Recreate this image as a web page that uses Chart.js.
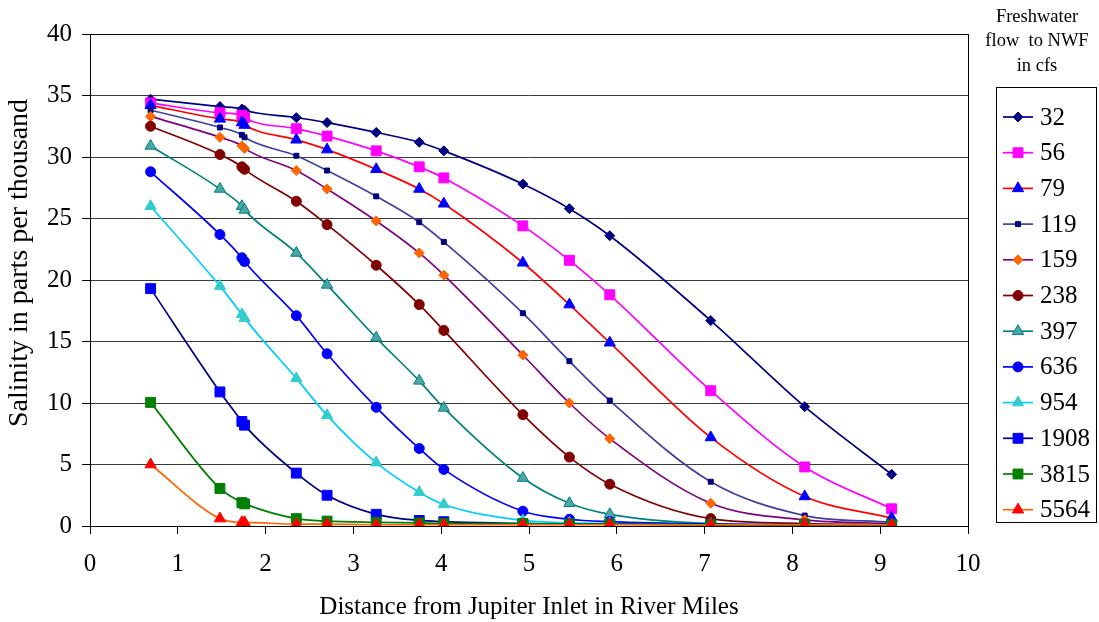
<!DOCTYPE html>
<html>
<head>
<meta charset="utf-8">
<title>Salinity vs distance</title>
<script src="https://cdn.jsdelivr.net/npm/chart.js@4.4.1/dist/chart.umd.min.js"></script>
<style>
  html, body { margin: 0; padding: 0; background: #fff; }
  canvas { display: block; }
</style>
</head>
<body>
<canvas id="chart" width="1099" height="622"></canvas>
<script>
// distance from Jupiter Inlet (river miles)
const distances = [0.69, 1.48, 1.73, 1.76, 2.35, 2.70, 3.26, 3.75, 4.03, 4.93, 5.46, 5.92, 7.07, 8.14, 9.13];

// freshwater flow (cfs) = series names
const flows = ['32', '56', '79', '119', '159', '238', '397', '636', '954', '1908', '3815', '5564'];

// salinity (ppt) for each flow
const sal32   = [34.7, 34.1, 33.9, 33.8, 33.2, 32.8, 32.0, 31.2, 30.5, 27.8, 25.8, 23.6, 16.7, 9.7, 4.2];
const sal56   = [34.4, 33.6, 33.4, 33.2, 32.3, 31.7, 30.5, 29.2, 28.3, 24.4, 21.6, 18.8, 11.0, 4.8, 1.4];
const sal79   = [34.2, 33.1, 32.8, 32.6, 31.4, 30.6, 29.0, 27.4, 26.2, 21.4, 18.0, 14.9, 7.2, 2.4, 0.65];
const sal119  = [33.8, 32.4, 31.8, 31.6, 30.1, 28.9, 26.8, 24.7, 23.1, 17.3, 13.4, 10.2, 3.6, 0.85, 0.3];
const sal159  = [33.3, 31.6, 30.9, 30.7, 28.9, 27.4, 24.8, 22.2, 20.4, 13.9, 10.0, 7.1, 1.85, 0.5, 0.2];
const sal238  = [32.5, 30.2, 29.2, 29.0, 26.4, 24.5, 21.2, 18.0, 15.9, 9.05, 5.6, 3.4, 0.6, 0.2, 0.1];
const sal397  = [30.9, 27.4, 26.0, 25.7, 22.2, 19.6, 15.3, 11.8, 9.6, 3.9, 1.85, 0.95, 0.2, 0.1, 0.1];
const sal636  = [28.8, 23.7, 21.8, 21.5, 17.1, 14.0, 9.65, 6.3, 4.6, 1.2, 0.55, 0.35, 0.15, 0.1, 0.1];
const sal954  = [26.0, 19.5, 17.2, 16.9, 12.0, 9.0, 5.15, 2.75, 1.75, 0.45, 0.25, 0.2, 0.1, 0.1, 0.1];
const sal1908 = [19.3, 10.9, 8.5, 8.2, 4.3, 2.5, 0.95, 0.45, 0.35, 0.2, 0.15, 0.15, 0.1, 0.1, 0.1];
const sal3815 = [10.05, 3.05, 1.9, 1.8, 0.6, 0.4, 0.3, 0.25, 0.2, 0.2, 0.15, 0.15, 0.1, 0.1, 0.1];
const sal5564 = [5.0, 0.6, 0.3, 0.3, 0.15, 0.15, 0.1, 0.1, 0.1, 0.1, 0.1, 0.1, 0.1, 0.1, 0.1];

const xTicks = [0, 1, 2, 3, 4, 5, 6, 7, 8, 9, 10];
const yTicks = [0, 5, 10, 15, 20, 25, 30, 35, 40];

document.addEventListener('DOMContentLoaded', () => {
    const FONT = '"Liberation Serif", "Times New Roman", serif';
    const allSal = [sal32, sal56, sal79, sal119, sal159, sal238, sal397, sal636, sal954, sal1908, sal3815, sal5564];

    // line colour, marker fill, marker border, marker style, radius
    const styles = [
        { line: '#000080', fill: '#000080', border: '#000080', shape: 'rectRot',  r: 5 },
        { line: '#FF00FF', fill: '#FF00FF', border: '#FF00FF', shape: 'rect',     r: 7 },
        { line: '#FF0000', fill: '#0000FF', border: '#0000FF', shape: 'triangle', r: 6.5 },
        { line: '#3F3F9F', fill: '#000080', border: '#000080', shape: 'rect',     r: 3.5 },
        { line: '#800080', fill: '#FF6600', border: '#FF6600', shape: 'rectRot',  r: 5 },
        { line: '#800000', fill: '#800000', border: '#800000', shape: 'circle',   r: 5 },
        { line: '#008080', fill: '#4DA6A6', border: '#008080', shape: 'triangle', r: 6.5 },
        { line: '#0000FF', fill: '#0000FF', border: '#0000FF', shape: 'circle',   r: 5 },
        { line: '#00CCFF', fill: '#33CCCC', border: '#33CCCC', shape: 'triangle', r: 6.5 },
        { line: '#000080', fill: '#0000FF', border: '#0000FF', shape: 'rect',     r: 7 },
        { line: '#008000', fill: '#008000', border: '#008000', shape: 'rect',     r: 7 },
        { line: '#FF6600', fill: '#FF0000', border: '#FF0000', shape: 'triangle', r: 6.5 }
    ];

    const datasets = flows.map((name, i) => ({
        label: name,
        data: distances.map((x, j) => ({ x: x, y: allSal[i][j] })),
        showLine: true,
        borderColor: styles[i].line,
        borderWidth: 1.7,
        cubicInterpolationMode: 'monotone',
        pointStyle: styles[i].shape,
        pointRadius: styles[i].r,
        pointBackgroundColor: styles[i].fill,
        pointBorderColor: styles[i].border,
        pointBorderWidth: 1,
        order: flows.length - i
    }));

    // plot frame, y title and legend drawn on the canvas
    const framePlugin = {
        id: 'frameAndLegend',
        beforeDatasetsDraw(chart) {
            const { ctx, chartArea: a } = chart;
            ctx.save();
            ctx.strokeStyle = '#000';
            ctx.lineWidth = 1;
            ctx.strokeRect(Math.round(a.left) + 0.5, Math.round(a.top) + 0.5,
                Math.round(a.right - a.left), Math.round(a.bottom - a.top));
            ctx.restore();
        },
        afterDraw(chart) {
            const ctx = chart.ctx;
            ctx.save();
            // y axis title (sits a little above the plot centre, as in the original)
            ctx.fillStyle = '#000';
            ctx.font = '28px ' + FONT;
            ctx.textAlign = 'center';
            ctx.textBaseline = 'middle';
            ctx.translate(20, 263);
            ctx.rotate(-Math.PI / 2);
            ctx.fillText('Salinity in parts per thousand', 0, 0);
            ctx.setTransform(1, 0, 0, 1, 0, 0);

            // title over the legend
            ctx.font = '18.5px ' + FONT;
            ['Freshwater', 'flow  to NWF', 'in cfs'].forEach((t, k) => {
                ctx.fillText(t, 1037, 17 + k * 24.5);
            });
            // box
            ctx.strokeStyle = '#000';
            ctx.lineWidth = 1;
            ctx.strokeRect(996.5, 87.5, 100, 435);
            ctx.font = '25px ' + FONT;
            ctx.textAlign = 'left';
            flows.forEach((name, i) => {
                const y = 117 + i * 35.7;
                const s = styles[i];
                ctx.strokeStyle = s.line;
                ctx.lineWidth = 1.7;
                ctx.beginPath();
                ctx.moveTo(1003, y);
                ctx.lineTo(1033, y);
                ctx.stroke();
                ctx.fillStyle = s.fill;
                ctx.strokeStyle = s.border;
                ctx.lineWidth = 1;
                Chart.helpers.drawPoint(ctx, { pointStyle: s.shape, rotation: 0, radius: s.r, borderWidth: 1 }, 1018, y);
                ctx.fillStyle = '#000';
                ctx.fillText(name, 1040, y + 1);
            });
            ctx.restore();
        }
    };

    new Chart(document.getElementById('chart').getContext('2d'), {
        type: 'scatter',
        data: { datasets: datasets },
        options: {
            responsive: false,
            animation: false,
            devicePixelRatio: 1,
            layout: { padding: { top: 34, right: 131, left: 0, bottom: 0 } },
            plugins: {
                legend: { display: false },
                tooltip: { enabled: false }
            },
            scales: {
                x: {
                    type: 'linear',
                    min: 0,
                    max: 10,
                    afterFit: (scale) => { scale.height = 96; },
                    afterBuildTicks: (scale) => { scale.ticks = xTicks.map(v => ({ value: v })); },
                    ticks: { color: '#000', font: { family: FONT, size: 25 }, padding: 15, maxRotation: 0 },
                    grid: { drawOnChartArea: false, tickLength: 8, tickColor: '#000', color: '#000' },
                    border: { color: '#000', width: 1 },
                    title: {
                        display: true,
                        text: 'Distance from Jupiter Inlet in River Miles',
                        color: '#000',
                        font: { family: FONT, size: 25 },
                        padding: { top: 0, bottom: 0 }
                    }
                },
                y: {
                    min: 0,
                    max: 40,
                    afterFit: (scale) => { scale.width = 90; },
                    afterBuildTicks: (scale) => { scale.ticks = yTicks.map(v => ({ value: v })); },
                    ticks: { color: '#000', font: { family: FONT, size: 25 }, padding: 10 },
                    grid: { color: '#3a3a3a', tickLength: 8, tickColor: '#000', lineWidth: 1 },
                    border: { color: '#000', width: 1 }
                }
            }
        },
        plugins: [framePlugin]
    });
});
</script>
</body>
</html>
